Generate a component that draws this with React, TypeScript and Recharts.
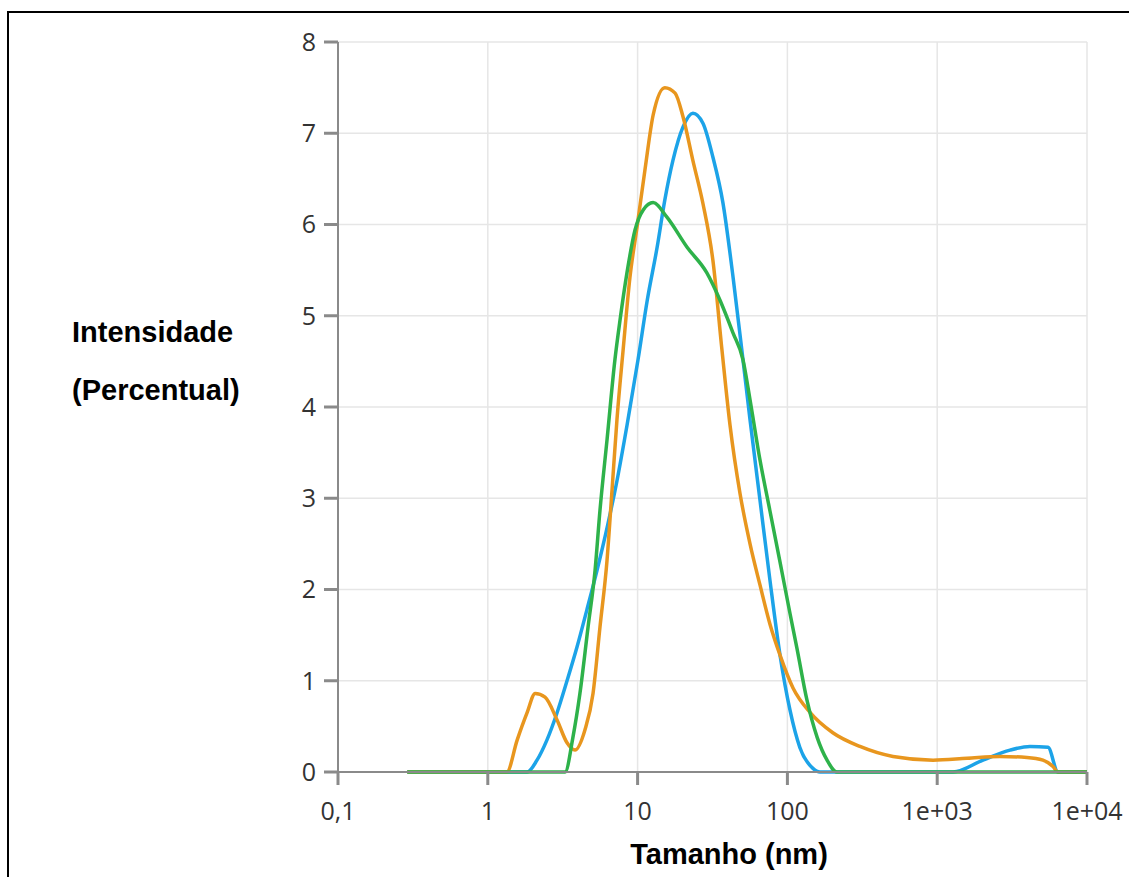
import { CartesianGrid, Line, LineChart, XAxis, YAxis } from 'recharts'

// tamanho (nm) e intensidade (%)
const BLUE_SIZES = [0.29, 1.83, 2.13, 2.48, 2.9, 3.38, 3.94, 4.59, 5.36, 6.3, 7.3, 8.5, 10.07, 11.6, 13.5, 15.2, 17.2, 20.1, 23.4, 27.3, 31.8, 37.1, 43.4, 50.5, 56.3, 65.6, 76.5, 89.3, 104, 121, 148, 165, 1274, 2022, 3062, 4160, 5495, 6400, 10000]
const BLUE_VALUES = [0, 0, 0.13, 0.35, 0.65, 1.0, 1.37, 1.78, 2.21, 2.7, 3.2, 3.8, 4.52, 5.17, 5.75, 6.27, 6.7, 7.07, 7.22, 7.11, 6.74, 6.24, 5.42, 4.52, 3.86, 2.98, 2.1, 1.28, 0.68, 0.27, 0.04, 0, 0, 0.13, 0.24, 0.28, 0.27, 0, 0]

const ORANGE_SIZES = [0.29, 1.34, 1.57, 1.83, 2.07, 2.41, 2.9, 3.38, 3.82, 4.45, 5.04, 5.61, 6.25, 6.75, 7.28, 8.0, 8.89, 9.91, 11.2, 12.7, 15.2, 17.8, 20.1, 23.4, 27.3, 31.8, 36.6, 41.4, 48.3, 56.3, 65.6, 76.5, 89.3, 109, 142, 201, 305, 507, 938, 1581, 2624, 3975, 5080, 5930, 6400, 10000]
const ORANGE_VALUES = [0, 0, 0.35, 0.65, 0.86, 0.82, 0.57, 0.32, 0.24, 0.46, 0.86, 1.59, 2.32, 3.09, 3.86, 4.62, 5.42, 5.97, 6.6, 7.2, 7.5, 7.44, 7.18, 6.7, 6.23, 5.61, 4.62, 3.8, 3.05, 2.5, 2.05, 1.62, 1.28, 0.92, 0.65, 0.43, 0.28, 0.17, 0.13, 0.15, 0.17, 0.16, 0.13, 0.06, 0, 0]

const GREEN_SIZES = [0.29, 3.28, 3.7, 4.12, 4.67, 5.2, 5.61, 6.25, 7.06, 7.63, 8.49, 9.61, 10.9, 12.7, 15.7, 21.4, 29.0, 35.5, 43.4, 50.5, 56.3, 65.6, 76.5, 89.3, 104, 116, 135, 158, 184, 214, 10000]
const GREEN_VALUES = [0, 0, 0.38, 0.86, 1.59, 2.21, 2.87, 3.64, 4.52, 4.95, 5.47, 5.94, 6.16, 6.24, 6.08, 5.75, 5.47, 5.17, 4.81, 4.52, 4.08, 3.42, 2.86, 2.3, 1.74, 1.35, 0.79, 0.38, 0.13, 0, 0]

const X_TICKS = [0.1, 1, 10, 100, 1000, 10000]
const X_LABELS = ['0,1', '1', '10', '100', '1e+03', '1e+04']
const Y_TICKS = [0, 1, 2, 3, 4, 5, 6, 7, 8]

const toPoints = (sizes: number[], values: number[]) =>
  sizes.map((x, i) => ({ x, y: values[i] }))

const AXIS_COLOR = '#8a8a8a'
const tickStyle = { fill: '#333', fontSize: 25, fontFamily: 'Open Sans' }
const titleStyle = {
  position: 'absolute' as const,
  fontFamily: '"Liberation Sans", Arial, sans-serif',
  fontWeight: 700,
  fontSize: 29,
  lineHeight: '29px',
  color: '#000',
  whiteSpace: 'nowrap' as const,
}

export default function App() {
  return (
    <div style={{ position: 'absolute', left: 0, top: 0, width: 1129, height: 877, background: '#fff' }}>
      <div
        style={{
          position: 'absolute',
          left: 7,
          top: 11,
          width: 1122,
          height: 866,
          borderTop: '2px solid #000',
          borderLeft: '2px solid #000',
          boxSizing: 'border-box',
        }}
      />
      <div style={{ position: 'absolute', left: 0, top: 0 }}>
        <LineChart width={1129} height={877} margin={{ top: 42, right: 42, bottom: 0, left: 0 }}>
          <CartesianGrid stroke="#e6e6e6" strokeWidth={1.5} />
          <XAxis
            type="number"
            dataKey="x"
            scale="log"
            domain={[0.1, 10000]}
            ticks={X_TICKS}
            tickFormatter={(v: number) => X_LABELS[X_TICKS.indexOf(v)] ?? String(v)}
            allowDataOverflow
            height={105}
            tickSize={13}
            tickMargin={17}
            stroke={AXIS_COLOR}
            strokeWidth={2}
            tick={tickStyle}
            tickLine={{ stroke: AXIS_COLOR, strokeWidth: 3 }}
          />
          <YAxis
            type="number"
            domain={[0, 8]}
            ticks={Y_TICKS}
            width={338}
            tickSize={14}
            tickMargin={8}
            stroke={AXIS_COLOR}
            strokeWidth={2}
            tick={tickStyle}
            tickLine={{ stroke: AXIS_COLOR, strokeWidth: 3 }}
          />
          <Line
            data={toPoints(BLUE_SIZES, BLUE_VALUES)}
            dataKey="y"
            type="monotone"
            stroke="#1ca3e8"
            strokeWidth={3.5}
            dot={false}
            isAnimationActive={false}
          />
          <Line
            data={toPoints(ORANGE_SIZES, ORANGE_VALUES)}
            dataKey="y"
            type="monotone"
            stroke="#e8961e"
            strokeWidth={3.5}
            dot={false}
            isAnimationActive={false}
          />
          <Line
            data={toPoints(GREEN_SIZES, GREEN_VALUES)}
            dataKey="y"
            type="monotone"
            stroke="#2eb24a"
            strokeWidth={3.5}
            dot={false}
            isAnimationActive={false}
          />
        </LineChart>
      </div>
      <div style={{ ...titleStyle, left: 72, top: 318 }}>Intensidade</div>
      <div style={{ ...titleStyle, left: 72, top: 376 }}>(Percentual)</div>
      <div style={{ ...titleStyle, left: 529, top: 840, width: 400, textAlign: 'center' }}>Tamanho (nm)</div>
    </div>
  )
}
